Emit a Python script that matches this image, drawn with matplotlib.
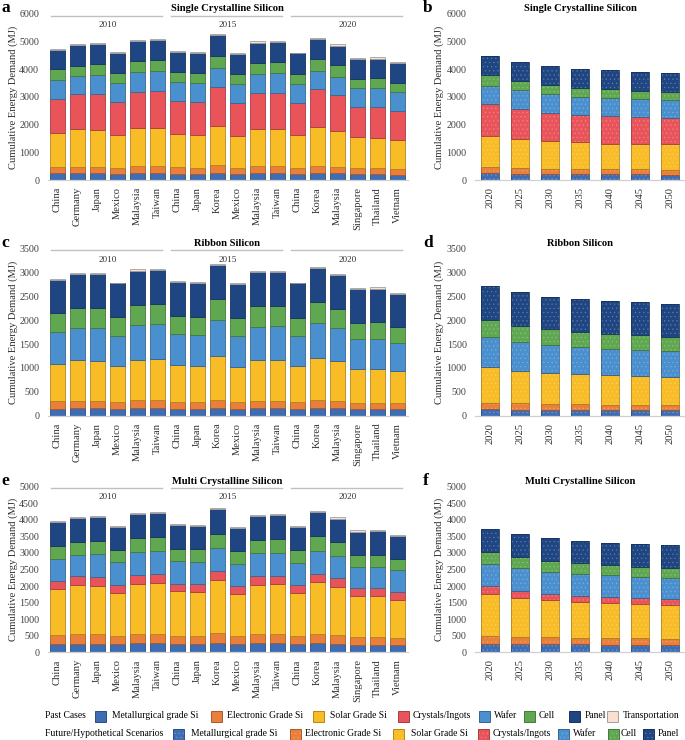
import matplotlib
matplotlib.use('Agg')
import matplotlib.pyplot as plt
import numpy as np
from matplotlib.patches import Rectangle
from matplotlib.colors import to_rgb

plt.rcParams['font.family'] = ['Liberation Serif', 'DejaVu Serif']
plt.rcParams['hatch.linewidth'] = 0.4

# ---------------- categories ----------------
countries = ['China', 'Germany', 'Japan', 'Mexico', 'Malaysia', 'Taiwan',
             'China', 'Japan', 'Korea', 'Mexico', 'Malaysia', 'Taiwan',
             'China', 'Korea', 'Malaysia', 'Singapore', 'Thailand', 'Vietnam']
group_years = ['2010', '2015', '2020']
future_years = ['2020', '2025', '2030', '2035', '2040', '2045', '2050']
stages = ['Metallurgical grade Si', 'Electronic Grade Si', 'Solar Grade Si',
          'Crystals/Ingots', 'Wafer', 'Cell', 'Panel', 'Transportation']

# ---------------- (a) Single crystalline, past cases (MJ) ----------------
a_metallurgical = [240, 250, 253, 217, 253, 253, 229, 229, 265, 217, 253, 253, 217, 253, 253, 217, 217, 193]
a_electronic = [218, 230, 229, 217, 253, 253, 229, 217, 277, 217, 253, 253, 205, 253, 217, 205, 217, 193]
a_solar = [1229, 1363, 1337, 1180, 1361, 1386, 1193, 1193, 1410, 1156, 1325, 1325, 1192, 1410, 1289, 1120, 1096, 1048]
a_crystals = [1241, 1265, 1277, 1193, 1326, 1337, 1204, 1180, 1397, 1181, 1302, 1326, 1169, 1361, 1301, 1085, 1121, 1048]
a_wafer = [686, 651, 687, 687, 699, 711, 675, 687, 699, 687, 698, 698, 675, 675, 675, 686, 674, 687]
a_cell = [386, 374, 410, 386, 421, 409, 374, 374, 434, 373, 410, 422, 373, 421, 410, 350, 350, 337]
a_panel = [699, 734, 711, 710, 711, 723, 710, 722, 747, 723, 723, 711, 747, 723, 710, 698, 711, 711]
a_transport = [48, 49, 48, 35, 48, 36, 49, 35, 36, 30, 48, 35, 30, 49, 50, 49, 48, 48]

# ---------------- (b) Single crystalline, future scenarios ----------------
b_metallurgical = [241, 229, 205, 205, 205, 205, 193]
b_electronic = [217, 193, 205, 181, 181, 181, 180]
b_solar = [1132, 1060, 988, 975, 927, 915, 916]
b_crystals = [1145, 1072, 1036, 1000, 1000, 964, 940]
b_wafer = [675, 687, 662, 651, 651, 663, 651]
b_cell = [373, 337, 338, 325, 325, 301, 301]
b_panel = [699, 687, 686, 687, 675, 687, 674]

# ---------------- (c) Ribbon, past cases ----------------
c_metallurgical = [147, 154, 154, 140, 154, 154, 140, 140, 168, 140, 154, 154, 140, 154, 154, 133, 133, 133]
c_electronic = [153, 160, 160, 140, 167, 167, 147, 147, 160, 140, 160, 160, 140, 167, 153, 133, 133, 126]
c_solar = [783, 846, 839, 754, 853, 874, 768, 761, 916, 747, 846, 860, 754, 895, 832, 712, 712, 670]
c_crystals = [0] * 18
c_wafer = [671, 685, 692, 643, 727, 727, 657, 650, 755, 636, 706, 713, 643, 727, 692, 622, 629, 587]
c_cell = [398, 412, 412, 391, 426, 426, 377, 370, 440, 384, 426, 412, 377, 440, 405, 350, 350, 343]
c_panel = [692, 720, 720, 706, 713, 713, 713, 720, 720, 713, 713, 720, 720, 706, 713, 698, 705, 699]
c_transport = [28, 20, 20, 12, 28, 21, 21, 18, 21, 12, 21, 21, 14, 21, 21, 28, 28, 21]

# ---------------- (d) Ribbon, future scenarios ----------------
d_metallurgical = [133, 126, 119, 119, 119, 119, 112]
d_electronic = [140, 133, 119, 119, 105, 105, 112]
d_solar = [740, 684, 649, 628, 621, 607, 586]
d_crystals = [0, 0, 0, 0, 0, 0, 0]
d_wafer = [629, 601, 587, 566, 553, 539, 539]
d_cell = [371, 343, 336, 322, 321, 314, 307]
d_panel = [698, 699, 685, 685, 685, 692, 685]

# ---------------- (e) Multi crystalline, past cases ----------------
e_metallurgical = [252, 262, 262, 241, 272, 272, 252, 252, 282, 241, 272, 272, 241, 272, 262, 231, 231, 231]
e_electronic = [271, 281, 281, 262, 271, 281, 251, 251, 291, 262, 271, 271, 262, 281, 261, 222, 222, 212]
e_solar = [1378, 1499, 1469, 1298, 1529, 1550, 1338, 1318, 1610, 1268, 1499, 1519, 1288, 1560, 1459, 1257, 1257, 1147]
e_crystals = [242, 252, 252, 241, 262, 271, 231, 231, 282, 231, 252, 252, 231, 251, 251, 222, 222, 221]
e_wafer = [684, 634, 694, 674, 704, 694, 685, 684, 694, 664, 694, 694, 684, 694, 685, 654, 654, 664]
e_cell = [382, 402, 402, 373, 413, 423, 372, 373, 422, 382, 412, 413, 372, 453, 412, 352, 362, 332]
e_panel = [725, 724, 725, 704, 724, 704, 714, 704, 735, 715, 715, 724, 715, 714, 694, 694, 704, 694]
e_transport = [40, 38, 40, 30, 40, 40, 40, 40, 40, 30, 40, 40, 30, 41, 50, 50, 40, 40]

# ---------------- (f) Multi crystalline, future scenarios ----------------
f_metallurgical = [262, 252, 241, 241, 231, 231, 221]
f_electronic = [231, 211, 212, 192, 192, 192, 181]
f_solar = [1278, 1187, 1117, 1086, 1056, 1026, 1017]
f_crystals = [221, 211, 201, 191, 191, 191, 181]
f_wafer = [684, 674, 664, 664, 654, 644, 644]
f_cell = [352, 342, 322, 312, 312, 302, 301]
f_panel = [694, 684, 684, 674, 674, 684, 684]

# ---------------- styling ----------------
face_colors = ['#3e6db4', '#e97f3a', '#f8bc26', '#e9545b', '#4a8fce', '#5fa851', '#1f4682', '#f9e0d0']
W, H = 685, 740


def darker(c, f=0.72):
    r, g, b = to_rgb(c)
    return (r * f, g * f, b * f)


def lighter(c, f=0.28):
    r, g, b = to_rgb(c)
    return (r + (1 - r) * f, g + (1 - g) * f, b + (1 - b) * f)


edge_colors = [darker(c) for c in face_colors[:7]] + ['#a0a0a0']

fig = plt.figure(figsize=(W / 100, H / 100), dpi=100)


def ax_at(left, top, right, bottom):
    return fig.add_axes([left / W, 1 - bottom / H, (right - left) / W, (bottom - top) / H])


def style_axis(ax, ymax, step, nbars):
    ax.set_ylim(0, ymax)
    ax.set_xlim(-0.5, nbars - 0.5)
    ax.set_yticks(np.arange(0, ymax + 1, step))
    for s in ['top', 'right', 'left']:
        ax.spines[s].set_visible(False)
    ax.spines['bottom'].set_color('#d0d0d0')
    ax.spines['bottom'].set_linewidth(0.9)
    ax.tick_params(axis='both', length=0)
    ax.tick_params(axis='y', labelsize=7.2, pad=6, labelcolor='#404040')
    ax.tick_params(axis='x', labelsize=7.6, pad=5, labelcolor='#303030')
    ax.patch.set_alpha(0)


def draw_stack(ax, series, width, future=False):
    x = np.arange(len(series[0]))
    bottom = np.zeros(len(x))
    for i, vals in enumerate(series):
        vals = np.asarray(vals, dtype=float)
        if future:
            ax.bar(x, vals, width, bottom=bottom, color=face_colors[i],
                   edgecolor=lighter(face_colors[i]), linewidth=0, hatch='....', zorder=2)
            ax.bar(x, vals, width, bottom=bottom, fill=False,
                   edgecolor=edge_colors[i], linewidth=0.6, zorder=3)
        else:
            ax.bar(x, vals, width, bottom=bottom, color=face_colors[i],
                   edgecolor=edge_colors[i], linewidth=0.6, zorder=2)
        bottom += vals
    return x


def group_header(ax, title):
    ax.text(0.5, 1.032, title, transform=ax.transAxes, ha='center', va='center',
            fontsize=7.6, fontweight='bold')
    for g, yr in enumerate(group_years):
        x0, x1 = g * 6 - 0.35, g * 6 + 5.2
        ax.plot([x0, x1], [0.99, 0.99], transform=ax.get_xaxis_transform(),
                color='#c0c0c0', lw=1.0, clip_on=False)
        ax.text(g * 6 + 2.5, 0.935, yr, transform=ax.get_xaxis_transform(),
                ha='center', va='center', fontsize=6.6, color='#303030')


panels = [
    # (top, bottom, ymax, step, title, past series, future series, letters)
    (14, 180, 6000, 1000, 'Single Crystalline Silicon',
     [a_metallurgical, a_electronic, a_solar, a_crystals, a_wafer, a_cell, a_panel, a_transport],
     [b_metallurgical, b_electronic, b_solar, b_crystals, b_wafer, b_cell, b_panel], ('a', 'b')),
    (248.7, 415.7, 3500, 500, 'Ribbon Silicon',
     [c_metallurgical, c_electronic, c_solar, c_crystals, c_wafer, c_cell, c_panel, c_transport],
     [d_metallurgical, d_electronic, d_solar, d_crystals, d_wafer, d_cell, d_panel], ('c', 'd')),
    (486.7, 652.3, 5000, 500, 'Multi Crystalline Silicon',
     [e_metallurgical, e_electronic, e_solar, e_crystals, e_wafer, e_cell, e_panel, e_transport],
     [f_metallurgical, f_electronic, f_solar, f_crystals, f_wafer, f_cell, f_panel], ('e', 'f')),
]

for top, bottom, ymax, step, title, past, future, letters in panels:
    axl = ax_at(47.5, top, 407.5, bottom)
    style_axis(axl, ymax, step, len(countries))
    x = draw_stack(axl, past, 0.72)
    axl.set_xticks(x)
    axl.set_xticklabels(countries, rotation=90)
    group_header(axl, title)

    axr = ax_at(475, top, 685, bottom)
    style_axis(axr, ymax, step, len(future_years))
    x = draw_stack(axr, future, 0.6, future=True)
    axr.set_xticks(x)
    axr.set_xticklabels(future_years, rotation=90)
    axr.text(0.5, 1.032, title, transform=axr.transAxes, ha='center', va='center',
             fontsize=7.6, fontweight='bold')

    ymid = 1 - (top + bottom) / 2 / H
    for xl in (13.5, 439):
        fig.text(xl / W, ymid, 'Cumulative Energy Demand (MJ)', rotation=90,
                 ha='center', va='center', fontsize=7.6, color='#303030')
    fig.text(1 / W, 1 - (top - 6) / H, letters[0], fontsize=12.5, fontweight='bold',
             ha='left', va='center')
    fig.text(423 / W, 1 - (top - 6) / H, letters[1], fontsize=12.5, fontweight='bold',
             ha='left', va='center')

# ---------------- legend ----------------
leg_fs = 6.9
box = 11


def legend_box(xl, yc, i, future=False):
    xy = (xl / W, 1 - (yc + box / 2) / H)
    if future:
        fig.patches.append(Rectangle(xy, box / W, box / H, transform=fig.transFigure,
                                     facecolor=face_colors[i], edgecolor=lighter(face_colors[i]),
                                     linewidth=0, hatch='....'))
        fig.patches.append(Rectangle(xy, box / W, box / H, transform=fig.transFigure,
                                     fill=False, edgecolor=edge_colors[i], linewidth=0.7))
    else:
        fig.patches.append(Rectangle(xy, box / W, box / H, transform=fig.transFigure,
                                     facecolor=face_colors[i], edgecolor=edge_colors[i],
                                     linewidth=0.7))


row1_y, row2_y = 716, 734
fig.text(45 / W, 1 - row1_y / H, 'Past Cases', fontsize=leg_fs, va='center', ha='left')
row1 = [(95, 112), (211, 227), (313, 330), (398, 413), (479, 494), (524, 539), (569, 585), (607, 623)]
for i, (bx, tx) in enumerate(row1):
    legend_box(bx, row1_y, i)
    fig.text(tx / W, 1 - row1_y / H, stages[i], fontsize=leg_fs, va='center', ha='left')

fig.text(45 / W, 1 - row2_y / H, 'Future/Hypothetical Scenarios', fontsize=leg_fs, va='center', ha='left')
row2 = [(173, 191), (290, 305), (393, 411), (478, 493), (558, 573), (608, 621), (643, 658)]
for i, (bx, tx) in enumerate(row2):
    legend_box(bx, row2_y, i, future=True)
    fig.text(tx / W, 1 - row2_y / H, stages[i], fontsize=leg_fs, va='center', ha='left')

fig.savefig('out.png', dpi=100, facecolor='white')
